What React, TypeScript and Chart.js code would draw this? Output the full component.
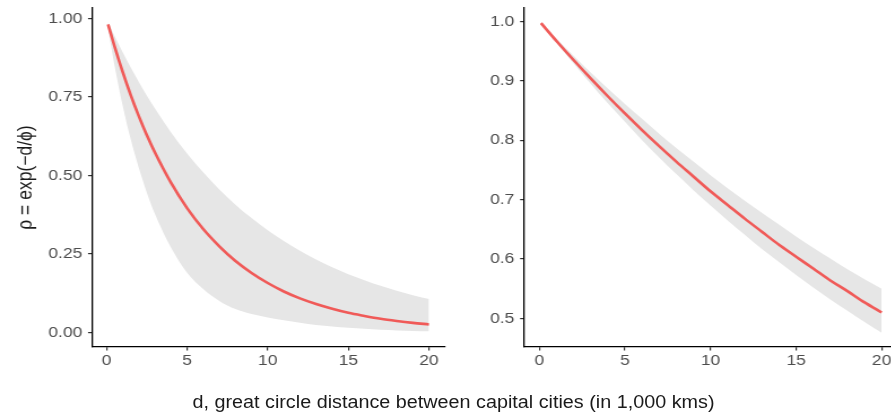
import React, { useEffect, useRef } from "react";
import { Chart, registerables } from "chart.js";

Chart.register(...registerables);

// ---------- data ----------
const xTickValues = [0, 5, 10, 15, 20];
const leftYTickValues = [0, 0.25, 0.5, 0.75, 1.0];
const rightYTickValues = [0.5, 0.6, 0.7, 0.8, 0.9, 1.0];

const leftXRange = [-0.895, 20.995];
const leftYRange = [-0.047, 1.034];
const rightXRange = [-0.895, 20.995];
const rightYRange = [0.452, 1.0225];

const leftD = [0.1, 0.5, 1, 1.5, 2, 2.5, 3, 4, 5, 6, 7, 8, 9, 10, 11, 12, 13, 14, 15, 16, 17, 18, 19, 20];
const leftMean = [0.982, 0.912, 0.831, 0.757, 0.69, 0.629, 0.574, 0.477, 0.396, 0.329, 0.274, 0.227, 0.189, 0.157, 0.13, 0.108, 0.09, 0.075, 0.062, 0.052, 0.043, 0.036, 0.03, 0.025];
const leftUpper = [0.989, 0.945, 0.894, 0.845, 0.799, 0.755, 0.714, 0.638, 0.57, 0.51, 0.455, 0.407, 0.364, 0.325, 0.291, 0.26, 0.232, 0.207, 0.185, 0.166, 0.148, 0.132, 0.118, 0.106];
const leftLower = [0.969, 0.851, 0.724, 0.616, 0.525, 0.446, 0.378, 0.27, 0.19, 0.138, 0.1, 0.074, 0.058, 0.047, 0.038, 0.03, 0.023, 0.018, 0.014, 0.011, 0.008, 0.006, 0.004, 0.003];

const rightD = [0.1, 1, 2, 3, 4, 5, 6, 7, 8, 9, 10, 11, 12, 13, 14, 15, 16, 17, 18, 19, 20];
const rightMean = [0.997, 0.967, 0.935, 0.904, 0.874, 0.845, 0.817, 0.79, 0.764, 0.739, 0.714, 0.691, 0.668, 0.646, 0.624, 0.604, 0.584, 0.564, 0.546, 0.527, 0.51];
const rightUpper = [0.997, 0.971, 0.942, 0.914, 0.887, 0.861, 0.836, 0.811, 0.787, 0.764, 0.741, 0.719, 0.698, 0.678, 0.658, 0.638, 0.619, 0.601, 0.583, 0.566, 0.55];
const rightLower = [0.996, 0.964, 0.929, 0.895, 0.862, 0.831, 0.8, 0.771, 0.743, 0.716, 0.69, 0.665, 0.641, 0.617, 0.595, 0.573, 0.552, 0.532, 0.513, 0.494, 0.476];

const yTitle = "ρ = exp(−d/ϕ)";
const xTitle = "d, great circle distance between capital cities (in 1,000 kms)";

// ---------- styling ----------
const STRETCH = 1.13;
const FONT = "'Liberation Sans', Arial, Helvetica, sans-serif";
const LINE_COLOR = "#F05A58";
const BAND_COLOR = "#E6E6E6";
const TICK_COLOR = "#4D4D4D";

type PanelOpts = {
  d: number[];
  mean: number[];
  upper: number[];
  lower: number[];
  xRange: number[];
  yRange: number[];
  yTicks: number[];
  yDecimals: number;
  yAxisWidth: number;
  padRight: number;
  title?: string;
};

function pts(d: number[], v: number[]) {
  return d.map((x, i) => ({ x, y: v[i] }));
}

function makeConfig(o: PanelOpts): any {
  const axisCommon = {
    border: { display: true, color: "#000000", width: 1.3 },
    grid: {
      display: true,
      drawOnChartArea: false,
      drawTicks: true,
      tickLength: 3.5,
      color: "#333333",
      lineWidth: 1.2,
    },
  };
  return {
    type: "line",
    data: {
      datasets: [
        {
          data: pts(o.d, o.mean),
          borderColor: LINE_COLOR,
          borderWidth: 2.6,
          pointRadius: 0,
          fill: false,
          cubicInterpolationMode: "monotone",
          order: 0,
        },
        {
          data: pts(o.d, o.upper),
          borderColor: "rgba(0,0,0,0)",
          borderWidth: 0,
          backgroundColor: BAND_COLOR,
          pointRadius: 0,
          fill: "+1",
          cubicInterpolationMode: "monotone",
          order: 1,
        },
        {
          data: pts(o.d, o.lower),
          borderColor: "rgba(0,0,0,0)",
          borderWidth: 0,
          backgroundColor: BAND_COLOR,
          pointRadius: 0,
          fill: false,
          cubicInterpolationMode: "monotone",
          order: 2,
        },
      ],
    },
    options: {
      animation: false,
      responsive: true,
      maintainAspectRatio: false,
      events: [],
      layout: { padding: { top: 8, right: o.padRight, bottom: 36, left: 0 } },
      plugins: { legend: { display: false }, tooltip: { enabled: false } },
      scales: {
        x: {
          type: "linear",
          min: o.xRange[0],
          max: o.xRange[1],
          ...axisCommon,
          ticks: {
            autoSkip: false,
            maxRotation: 0,
            padding: 2,
            color: TICK_COLOR,
            font: { family: FONT, size: 15.5, lineHeight: 1 },
          },
          afterBuildTicks: (scale: any) => {
            scale.ticks = xTickValues.map((v) => ({ value: v }));
          },
          afterFit: (scale: any) => {
            scale.height = 30;
            scale.paddingLeft = 0;
            scale.paddingRight = 0;
          },
        },
        y: {
          type: "linear",
          min: o.yRange[0],
          max: o.yRange[1],
          ...axisCommon,
          ticks: {
            autoSkip: false,
            padding: 5,
            color: TICK_COLOR,
            font: { family: FONT, size: 15.5, lineHeight: 1 },
            callback: (v: any) => Number(v).toFixed(o.yDecimals),
          },
          afterBuildTicks: (scale: any) => {
            scale.ticks = o.yTicks.map((v) => ({ value: v }));
          },
          afterFit: (scale: any) => {
            scale.width = o.yAxisWidth;
            scale.paddingTop = 0;
            scale.paddingBottom = 0;
          },
          title: o.title
            ? {
                display: true,
                text: o.title,
                color: "#1A1A1A",
                font: { family: FONT, size: 17.5, lineHeight: 1.2 },
                padding: { top: 13, bottom: 0 },
              }
            : { display: false },
        },
      },
    },
  };
}

function Panel(props: { opts: PanelOpts; left: number; width: number }) {
  const ref = useRef<HTMLCanvasElement | null>(null);
  useEffect(() => {
    if (!ref.current) return;
    const chart = new Chart(ref.current, makeConfig(props.opts));
    return () => chart.destroy();
  }, []);
  return (
    <div style={{ position: "absolute", left: props.left, top: 0, width: props.width, height: 413 }}>
      <canvas ref={ref} />
    </div>
  );
}

export default function App() {
  const leftOpts: PanelOpts = {
    d: leftD,
    mean: leftMean,
    upper: leftUpper,
    lower: leftLower,
    xRange: leftXRange,
    yRange: leftYRange,
    yTicks: leftYTickValues,
    yDecimals: 2,
    yAxisWidth: 92 / STRETCH,
    padRight: 398 - 445 / STRETCH,
    title: yTitle,
  };
  const rightOpts: PanelOpts = {
    d: rightD,
    mean: rightMean,
    upper: rightUpper,
    lower: rightLower,
    xRange: rightXRange,
    yRange: rightYRange,
    yTicks: rightYTickValues,
    yDecimals: 1,
    yAxisWidth: 524 / STRETCH - 400,
    padRight: 800 - 898.7 / STRETCH,
  };
  const titleCenter = 453.5 / STRETCH;
  return (
    <div
      style={{
        position: "fixed",
        left: 0,
        top: 0,
        width: 891 / STRETCH,
        height: 413,
        overflow: "hidden",
        background: "#FFFFFF",
        transform: `scaleX(${STRETCH})`,
        transformOrigin: "0 0",
      }}
    >
      <Panel opts={leftOpts} left={0} width={398} />
      <Panel opts={rightOpts} left={400} width={400} />
      <div
        style={{
          position: "absolute",
          left: titleCenter - 320,
          width: 640,
          top: 393.5,
          textAlign: "center",
          fontFamily: FONT,
          fontSize: 17.5,
          lineHeight: "17.5px",
          color: "#1A1A1A",
          whiteSpace: "nowrap",
        }}
      >
        {xTitle}
      </div>
    </div>
  );
}
